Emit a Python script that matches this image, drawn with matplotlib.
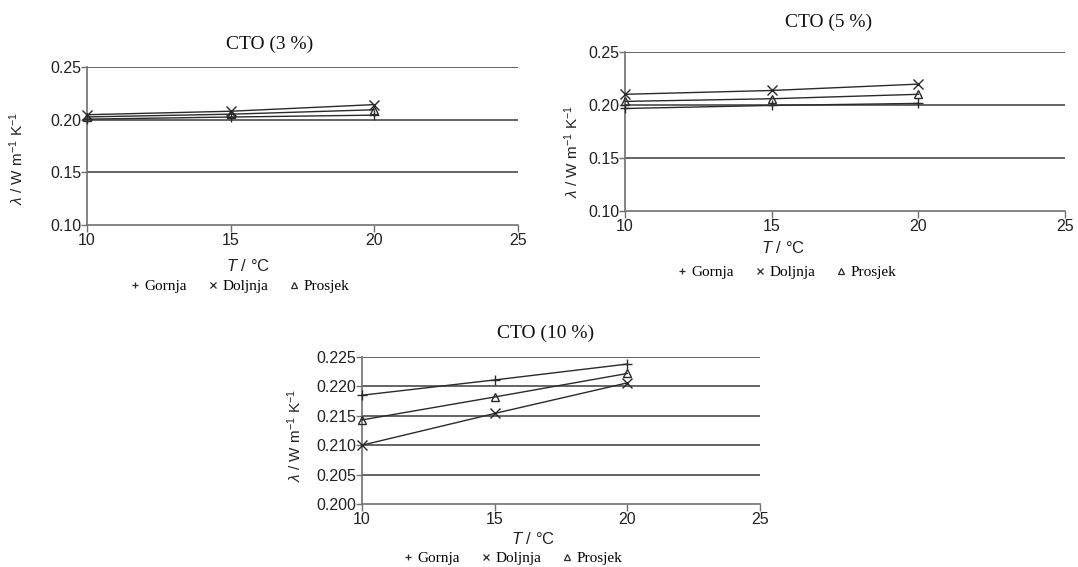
import matplotlib
matplotlib.use("Agg")
import matplotlib.pyplot as plt
from matplotlib.lines import Line2D

plt.rcParams["font.family"] = "Liberation Sans"
plt.rcParams["mathtext.fontset"] = "custom"
plt.rcParams["mathtext.rm"] = "Liberation Sans"
plt.rcParams["mathtext.it"] = "Liberation Sans:italic"

# temperatures (°C)
temps = [10, 15, 20]

# CTO 3 %
gornja_3 = [0.2005, 0.2025, 0.2043]
doljnja_3 = [0.2047, 0.2080, 0.2143]
prosjek_3 = [0.2026, 0.2052, 0.2094]

# CTO 5 %
gornja_5 = [0.1967, 0.1996, 0.2015]
doljnja_5 = [0.2101, 0.2137, 0.2197]
prosjek_5 = [0.2034, 0.2059, 0.2101]

# CTO 10 %
gornja_10 = [0.2185, 0.2211, 0.2238]
doljnja_10 = [0.2100, 0.2154, 0.2206]
prosjek_10 = [0.2143, 0.2182, 0.2222]

titles = ["CTO (3 %)", "CTO (5 %)", "CTO (10 %)"]
series_names = ["Gornja", "Doljnja", "Prosjek"]
yticks_small = [0.10, 0.15, 0.20, 0.25]
yticks_big = [0.200, 0.205, 0.210, 0.215, 0.220, 0.225]
xticks = [10, 15, 20, 25]

W, H = 1078, 567
fig = plt.figure(figsize=(W / 100, H / 100), dpi=100)


def px_axes(left, top, right, bottom):
    return fig.add_axes([left / W, 1 - bottom / H, (right - left) / W, (bottom - top) / H])


markers = ["+", "x", "^"]
line_col = "#2a2a2a"


def draw_panel(ax, data, yticks, yfmt):
    for vals, mk in zip(data, markers):
        ax.plot(temps, vals, color=line_col, lw=1.0, marker=mk,
                ms=7 if mk != "^" else 6, mfc="none", mec=line_col, mew=1.0,
                clip_on=False, zorder=3)
    ax.set_xlim(10, 25)
    ax.set_ylim(yticks[0], yticks[-1])
    ax.set_xticks(xticks)
    ax.set_yticks(yticks)
    ax.set_yticklabels([yfmt.format(t) for t in yticks])
    # horizontal gridlines
    for t in yticks[1:]:
        ax.axhline(t, color="#3a3a3a", lw=1.1, zorder=1)
    for s in ["top", "right"]:
        ax.spines[s].set_visible(False)
    for s in ["left", "bottom"]:
        ax.spines[s].set_color("#707070")
        ax.spines[s].set_linewidth(1.2)
    ax.tick_params(axis="both", colors="#707070", labelcolor="#222222",
                   labelsize=11.5, length=5, width=1.0)
    ax.tick_params(axis="y", pad=0, length=4)
    ax.tick_params(axis="x", pad=1)


ax1 = px_axes(87, 67, 518, 225)
draw_panel(ax1, [gornja_3, doljnja_3, prosjek_3], yticks_small, "{:.2f}")
ax2 = px_axes(625, 52, 1065, 211)
draw_panel(ax2, [gornja_5, doljnja_5, prosjek_5], yticks_small, "{:.2f}")
ax3 = px_axes(362, 357, 760, 504)
draw_panel(ax3, [gornja_10, doljnja_10, prosjek_10], yticks_big, "{:.3f}")

serif = "Liberation Serif"
ylabel = r"$\lambda$ / W m$^{-1}$ K$^{-1}$"
xlabel = r"$T$ / °C"

# titles, axis labels and legends placed in pixel positions
title_pos = [(270, 44), (829, 22), (546, 333)]
xlab_pos = [(248, 266), (783, 248), (533, 539)]
ylab_pos = [(17, 158), (572, 151), (295, 435)]
leg_pos = [(240, 286), (787, 272), (513, 558)]

handles = [Line2D([], [], ls="none", marker=m, color=line_col, mfc="none",
                  ms=5 if m != "^" else 4, mew=0.9) for m in markers]

for i in range(3):
    tx, ty = title_pos[i]
    fig.text(tx / W, 1 - ty / H, titles[i], family=serif, fontsize=14,
             ha="center", va="center", color="#111111")
    lx, ly = xlab_pos[i]
    fig.text(lx / W, 1 - ly / H, xlabel, fontsize=12, ha="center", va="center",
             color="#222222")
    yx, yy = ylab_pos[i]
    fig.text(yx / W, 1 - yy / H, ylabel, fontsize=11, ha="center", va="center",
             rotation=90, color="#222222")
    gx, gy = leg_pos[i]
    fig.legend(handles, series_names, loc="center", ncol=3, frameon=False,
               bbox_to_anchor=(gx / W, 1 - gy / H), prop={"family": serif, "size": 11},
               handlelength=0.6, handletextpad=0.3, columnspacing=1.4,
               borderpad=0, borderaxespad=0)

fig.savefig("out.png", dpi=100)
